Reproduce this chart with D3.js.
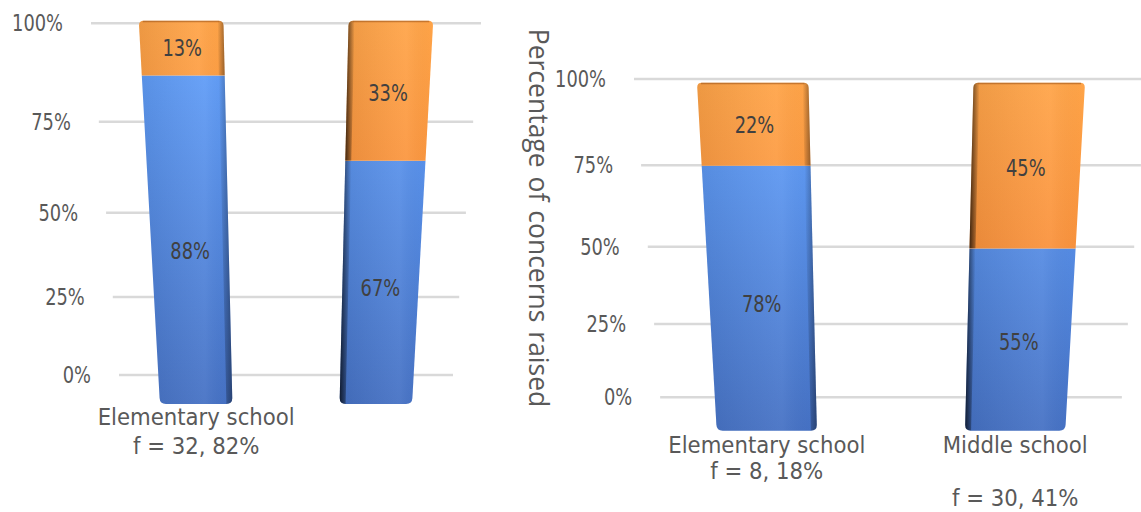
<!DOCTYPE html>
<html><head><meta charset="utf-8">
<script src="https://cdn.jsdelivr.net/npm/d3@7"></script>
<style>
html,body{margin:0;padding:0;background:#fff;}
svg{display:block;}
.lbl{font-family:"DejaVu Sans Condensed","DejaVu Sans",sans-serif;font-stretch:condensed;}
.ttl{font-family:"Open Sans",sans-serif;}
</style></head>
<body><svg id="chart" width="1141" height="512"></svg>
<script>
// ---------- DATA ----------
const tickValues = [0, 25, 50, 75, 100];
const tickLabels = ["0%", "25%", "50%", "75%", "100%"];

const leftCategories = ["Elementary school", "Middle school"];
const leftBlue = [87.5, 67];
const leftOrange = [12.5, 33];
const leftLabelLines = [["Elementary school", "f = 32, 82%"], []];

const rightCategories = ["Elementary school", "Middle school"];
const rightBlue = [78, 55];
const rightOrange = [22, 45];
const rightLabelLines = [["Elementary school", "f = 8, 18%"], ["Middle school", "", "f = 30, 41%"]];

const yAxisTitle = "Percentage of concerns raised";

// ---------- LAYOUT (perspective of each panel) ----------
const panels = [
  {id: "L", cats: leftCategories, blue: leftBlue, orange: leftOrange, lines: leftLabelLines,
   cx: 286, halfW: 167, k: 0.1436, wallY0: 375, wallY1: 23.3, barY0: 404, barY1: 20.7,
   labelY: 425, lineH: 29, title: false},
  {id: "R", cats: rightCategories, blue: rightBlue, orange: rightOrange, lines: rightLabelLines,
   cx: 891, halfW: 230.85, k: 0.1017, wallY0: 397.3, wallY1: 79, barY0: 430.7, barY1: 82.7,
   labelY: 453, lineH: 26.3, title: true}
];

const svg = d3.select("#chart");
const defs = svg.append("defs");

function linGrad(id, attrs, stops) {
  const g = defs.append("linearGradient").attr("id", id);
  Object.entries(attrs).forEach(([k, v]) => g.attr(k, v));
  stops.forEach(s => g.append("stop").attr("offset", s[0]).attr("stop-color", s[1]).attr("stop-opacity", s[2] == null ? 1 : s[2]));
  return g;
}
linGrad("hlight", {x1: 0, y1: 0, x2: 1, y2: 0},
  [[0, "#000", 0.07], [0.7, "#fff", 0.06], [1, "#000", 0.0]]);
linGrad("sideR", {x1: 0, y1: 0, x2: 1, y2: 0}, [[0, "#000", 0], [1, "#000", 0.45]]);
linGrad("sideL", {x1: 0, y1: 0, x2: 1, y2: 0}, [[0, "#000", 0.8], [1, "#000", 0]]);

const vScale = d3.scaleLinear().domain([0, 100]).range([0, 1]);

function roundedPoly(pts, radii) {
  const n = pts.length;
  let d = "";
  for (let i = 0; i < n; i++) {
    const p = pts[i], prev = pts[(i - 1 + n) % n], next = pts[(i + 1) % n], r = radii[i];
    if (!r) { d += (i ? "L" : "M") + p[0] + "," + p[1]; continue; }
    const u1 = [prev[0] - p[0], prev[1] - p[1]], l1 = Math.hypot(u1[0], u1[1]);
    const u2 = [next[0] - p[0], next[1] - p[1]], l2 = Math.hypot(u2[0], u2[1]);
    const s = [p[0] + u1[0] / l1 * r, p[1] + u1[1] / l1 * r];
    const e = [p[0] + u2[0] / l2 * r, p[1] + u2[1] / l2 * r];
    d += (i ? "L" : "M") + s[0] + "," + s[1] + "Q" + p[0] + "," + p[1] + " " + e[0] + "," + e[1];
  }
  return d + "Z";
}

const NUM_SIZE = 22.5, NUM_SX = 0.88;   // narrow numerals
const CAT_SIZE = 22.5, CAT_SX = 1.05;

panels.forEach(P => {
  const aw = P.wallY1 * (1 - P.k) - P.wallY0;
  const ab = P.barY1 * (1 - P.k) - P.barY0;
  const s = v => 1 / (1 - P.k * v);
  const wallY = v => (aw * v + P.wallY0) * s(v);
  const barY = v => (ab * v + P.barY0) * s(v);
  const px = (X, v) => P.cx + X * P.halfW * s(v);

  const xScale = d3.scalePoint().domain(P.cats).range([-1, 1]).padding(0.4294);
  const hw = 0.217;

  linGrad("blue" + P.id, {gradientUnits: "userSpaceOnUse", x1: 0, y1: P.barY1, x2: 0, y2: P.barY0},
    [[0, "#64a3ff"], [1, "#4571c4"]]);
  linGrad("orange" + P.id, {gradientUnits: "userSpaceOnUse", x1: 0, y1: P.barY1, x2: 0, y2: P.barY0},
    [[0, "#ffa448"], [1, "#f47f30"]]);

  const g = svg.append("g");

  // gridlines
  g.selectAll(".grid").data(tickValues).join("line")
    .attr("x1", d => px(-1, vScale(d))).attr("x2", d => px(1, vScale(d)))
    .attr("y1", d => wallY(vScale(d))).attr("y2", d => wallY(vScale(d)))
    .attr("stroke", "#d9d9d9").attr("stroke-width", 2.5);

  // tick labels
  g.selectAll(".tick").data(tickValues).join("text")
    .attr("class", "lbl")
    .attr("transform", d => `translate(${px(-1, vScale(d)) - 28},${wallY(vScale(d))}) scale(${NUM_SX},1)`)
    .attr("text-anchor", "end").attr("dominant-baseline", "central")
    .attr("font-size", NUM_SIZE).attr("fill", "#595959")
    .text((d, i) => tickLabels[i]);

  // bars
  P.cats.forEach((cat, i) => {
    const Xc = xScale(cat);
    const inner = Xc < 0 ? "R" : "L";
    const segs = [
      {v0: 0, v1: vScale(P.blue[i]), fill: "blue" + P.id, val: P.blue[i], bottom: true},
      {v0: vScale(P.blue[i]), v1: vScale(P.blue[i] + P.orange[i]), fill: "orange" + P.id, val: P.orange[i], bottom: false}
    ];
    segs.forEach((sg, j) => {
      const TL = [px(Xc - hw, sg.v1), barY(sg.v1)], TR = [px(Xc + hw, sg.v1), barY(sg.v1)];
      const BR = [px(Xc + hw, sg.v0), barY(sg.v0)], BL = [px(Xc - hw, sg.v0), barY(sg.v0)];
      const radii = sg.bottom ? [0, 0, 6, 6] : [5, 5, 0, 0];
      const d = roundedPoly([TL, TR, BR, BL], radii);
      const cid = "clip" + P.id + i + j;
      defs.append("clipPath").attr("id", cid).append("path").attr("d", d);
      g.append("path").attr("d", d).attr("fill", `url(#${sg.fill})`);
      g.append("path").attr("d", d).attr("fill", "url(#hlight)");
      const w = 6;
      let strip;
      if (inner === "R") {
        strip = [[TR[0] - w, TR[1]], [TR[0] + 1, TR[1]], [BR[0] + 1, BR[1]], [BR[0] - w, BR[1]]];
      } else {
        strip = [[TL[0] - 1, TL[1]], [TL[0] + w, TL[1]], [BL[0] + w, BL[1]], [BL[0] - 1, BL[1]]];
      }
      g.append("path").attr("d", "M" + strip.join("L") + "Z")
        .attr("fill", `url(#side${inner})`).attr("clip-path", `url(#${cid})`);
      if (!sg.bottom) {
        g.append("path")
          .attr("d", `M${TL[0] + 4},${TL[1] + 0.8}L${TR[0] - 4},${TR[1] + 0.8}`)
          .attr("stroke", "#9a5218").attr("stroke-opacity", 0.55).attr("stroke-width", 1.5);
      }
      const vm = (sg.v0 + sg.v1) / 2;
      g.append("text").attr("class", "lbl")
        .attr("transform", `translate(${px(Xc, vm)},${barY(vm)}) scale(${NUM_SX},1)`)
        .attr("text-anchor", "middle").attr("dominant-baseline", "central")
        .attr("font-size", NUM_SIZE).attr("fill", "#404040")
        .text(Math.round(sg.val) + "%");
    });

    // category label lines
    const lx = px(Xc, 0);
    const t = g.append("text").attr("class", "lbl")
      .attr("transform", `translate(${lx},${P.labelY}) scale(${CAT_SX},1)`)
      .attr("text-anchor", "middle").attr("font-size", CAT_SIZE).attr("fill", "#595959");
    P.lines[i].forEach((ln, li) => {
      t.append("tspan").attr("x", 0).attr("y", li * P.lineH).text(ln);
    });
  });

  if (P.title) {
    g.append("text").attr("class", "ttl")
      .attr("transform", "translate(529,218) rotate(90)")
      .attr("text-anchor", "middle").attr("font-size", 26.5).attr("fill", "#595959")
      .attr("word-spacing", 2)
      .text(yAxisTitle);
  }
});
</script>
</body></html>
